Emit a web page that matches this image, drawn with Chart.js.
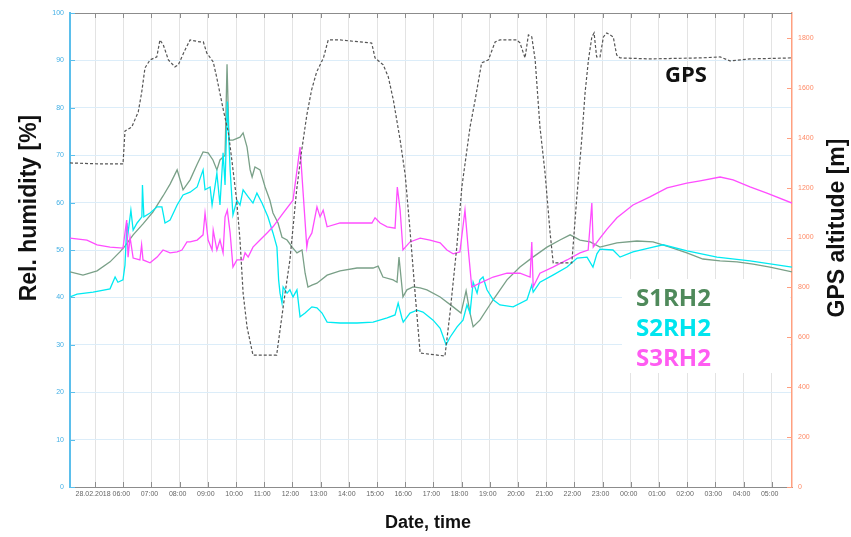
<!DOCTYPE html>
<html><head><meta charset="utf-8">
<script src="https://cdn.jsdelivr.net/npm/chart.js@4.4.1/dist/chart.umd.min.js"></script>
<style>html,body{margin:0;padding:0;background:#fff;overflow:hidden}canvas{display:block}</style>
</head><body>
<canvas id="c" width="851" height="537"></canvas>
<script>
// ---- axis ticks ----
const xTickHours = [5,6,7,8,9,10,11,12,13,14,15,16,17,18,19,20,21,22,23,24,25,26,27,28,29];
const xTickLabels = ['28.02.2018','06:00','07:00','08:00','09:00','10:00','11:00','12:00','13:00','14:00','15:00','16:00','17:00','18:00','19:00','20:00','21:00','22:00','23:00','00:00','01:00','02:00','03:00','04:00','05:00'];
const rhTicks = [0,10,20,30,40,50,60,70,80,90,100];
const gpsTicks = [0,200,400,600,800,1000,1200,1400,1600,1800];

// ---- GPS altitude [m] (x = hours since 28.02 00:00) ----
const gpsX = [4.11,5.17,5.99,6.06,6.30,6.53,6.65,6.77,6.95,7.19,7.30,7.42,7.60,7.83,7.95,8.19,8.37,8.72,8.84,8.96,9.19,9.31,9.55,9.73,9.85,10.02,10.14,10.25,10.39,10.60,11.44,11.56,11.74,11.91,12.15,12.33,12.51,12.68,12.86,13.10,13.27,13.69,14.40,14.81,14.93,15.22,15.40,15.58,15.82,16.00,16.17,16.35,16.53,17.41,17.59,17.83,18.01,18.30,18.48,18.71,18.95,19.19,19.36,19.96,20.07,20.25,20.37,20.49,20.61,20.78,20.96,21.14,21.25,21.91,22.08,22.26,22.38,22.50,22.62,22.70,22.79,22.91,23.03,23.15,23.38,23.50,23.62,24.68,26.46,27.17,27.52,28.23,29.72];
const gpsY = [1299,1295,1295,1427,1443,1503,1580,1680,1712,1724,1792,1772,1712,1684,1692,1752,1792,1784,1784,1740,1704,1644,1511,1419,1311,1151,990,778,641,529,529,629,778,910,1191,1351,1491,1592,1664,1720,1792,1792,1784,1780,1720,1692,1644,1551,1391,1251,1030,778,537,525,698,962,1203,1443,1551,1700,1712,1784,1792,1792,1780,1720,1812,1804,1712,1443,1259,1018,898,898,1151,1391,1580,1712,1804,1820,1724,1724,1804,1820,1804,1732,1720,1716,1720,1724,1708,1716,1720];

// ---- S1RH2 [%] ----
const s1X = [4.11,4.57,5.07,5.53,5.88,6.06,6.35,6.70,7.05,7.41,7.66,7.91,8.12,8.37,8.62,8.83,9.01,9.18,9.32,9.43,9.61,9.68,9.75,9.89,10.14,10.25,10.39,10.50,10.57,10.67,10.85,11.03,11.20,11.31,11.49,11.63,11.81,11.99,12.16,12.34,12.45,12.55,12.69,12.87,13.23,13.69,14.29,14.86,15.04,15.21,15.57,15.71,15.78,15.92,16.06,16.28,16.53,16.77,17.24,17.70,17.98,18.16,18.30,18.41,18.65,19.12,19.61,20.07,20.53,21.03,21.49,21.85,22.20,22.56,22.91,23.51,24.22,24.79,25.39,25.99,26.56,27.17,27.77,28.34,28.94,29.72];
const s1Y = [45.4,44.7,45.6,47.5,49.6,50.8,53.2,55.5,58.0,61.4,63.9,66.9,62.7,64.8,68.1,70.7,70.5,69.0,66.9,69.0,70.0,89.2,73.2,73.2,73.8,74.7,71.7,66.9,65.4,67.5,66.9,63.3,60.5,57.8,55.7,52.7,52.1,50.6,49.4,50.0,45.1,42.2,42.6,43.0,44.7,45.6,46.2,46.2,46.6,44.3,43.7,43.2,48.5,40.1,41.6,42.2,42.0,41.6,40.1,38.0,36.7,41.4,36.7,33.8,35.2,39.5,43.7,46.4,48.5,50.6,52.1,53.2,52.1,51.7,50.6,51.5,51.9,51.7,50.6,49.4,48.1,47.7,47.5,47.0,46.4,45.4];

// ---- S2RH2 [%] ----
const s2X = [4.11,4.36,4.93,5.53,5.71,5.81,5.99,6.06,6.13,6.17,6.27,6.35,6.49,6.66,6.68,6.73,6.95,7.20,7.37,7.48,7.66,7.91,8.12,8.37,8.62,8.83,8.90,9.08,9.15,9.25,9.32,9.43,9.54,9.61,9.69,9.79,9.89,10.03,10.14,10.25,10.43,10.60,10.74,10.92,11.13,11.31,11.45,11.51,11.56,11.63,11.67,11.81,11.91,12.02,12.16,12.27,12.45,12.69,12.87,13.05,13.23,13.69,14.29,14.86,15.36,15.64,15.75,15.88,15.93,16.17,16.42,16.63,16.99,17.24,17.45,17.59,17.84,18.05,18.19,18.30,18.41,18.55,18.65,18.76,18.90,19.12,19.36,19.83,20.32,20.49,20.54,20.78,21.24,21.74,22.10,22.45,22.66,22.80,22.91,23.37,23.62,24.08,24.79,25.15,26.00,27.06,28.23,29.72];
const s2Y = [40.1,40.7,41.1,41.8,44.3,43.2,43.7,46.8,55.7,53.6,58.4,54.2,55.7,57.0,63.7,57.0,57.8,59.1,59.1,55.7,56.3,59.5,61.6,62.2,63.3,66.9,62.7,63.3,59.5,63.3,66.2,59.5,70.5,63.7,81.3,66.9,57.4,60.5,59.5,62.7,61.2,59.9,62.0,59.9,57.0,53.6,50.6,43.7,40.9,38.8,42.2,40.9,41.6,40.1,41.6,35.9,36.7,38.0,37.8,36.7,34.8,34.6,34.6,34.8,35.7,36.3,38.8,35.7,34.8,36.7,37.3,36.9,35.2,33.5,30.0,31.6,33.8,35.2,38.4,36.7,43.2,40.9,43.7,44.3,41.6,39.5,38.4,38.0,39.5,42.6,41.1,43.2,44.7,46.4,48.3,48.5,46.4,49.2,50.2,50.0,48.5,49.6,50.6,51.1,49.8,48.5,47.7,46.4];

// ---- S3RH2 [%] ----
const s3X = [4.11,4.71,5.07,5.53,5.99,6.12,6.17,6.24,6.35,6.59,6.65,6.70,6.95,7.20,7.41,7.66,7.91,8.08,8.26,8.37,8.62,8.83,8.90,9.01,9.15,9.19,9.32,9.43,9.54,9.61,9.69,9.79,9.89,10.03,10.25,10.32,10.43,10.60,10.85,11.10,11.31,11.67,12.02,12.27,12.38,12.51,12.55,12.69,12.87,12.98,13.09,13.23,13.69,14.29,14.82,14.93,15.11,15.36,15.64,15.72,15.82,15.92,16.17,16.53,16.88,17.24,17.48,17.70,17.94,18.12,18.23,18.36,18.65,19.12,19.61,20.07,20.43,20.49,20.54,20.78,21.24,21.74,22.20,22.49,22.62,22.67,22.91,23.16,23.51,24.08,24.68,25.29,25.99,26.46,27.17,27.63,28.23,28.83,29.72];
const s3Y = [52.5,52.1,51.1,50.6,50.4,56.3,48.5,52.7,48.3,47.9,51.1,47.9,47.3,48.5,50.0,49.4,49.6,50.0,51.7,51.7,52.1,53.2,57.8,52.1,50.0,54.2,50.0,52.1,49.4,57.0,58.4,53.6,46.4,47.9,47.9,49.4,48.5,50.6,52.1,53.6,54.9,57.8,60.5,71.7,62.0,50.6,52.1,53.6,59.1,57.0,58.4,54.9,55.7,55.7,55.7,56.8,55.7,54.9,54.6,63.3,58.4,50.0,51.7,52.5,52.1,51.5,50.0,49.2,49.6,58.4,50.6,42.2,43.0,44.3,45.1,45.1,44.3,51.7,42.2,45.1,46.4,47.9,49.4,50.0,59.9,50.6,52.5,54.4,56.8,59.5,61.2,63.1,64.1,64.6,65.4,64.8,63.3,62.0,59.9];

function pts(xs, ys){ const n=Math.min(xs.length, ys.length); const o=[]; for(let i=0;i<n;i++) o.push({x:xs[i], y:ys[i]}); return o; }

const deco = {
  id: 'deco',
  beforeDatasetsDraw(chart){
    const ctx = chart.ctx;
    ctx.save();
    ctx.fillStyle = '#ffffff';
    ctx.fillRect(622, 279, 168, 94);
    ctx.restore();
  },
  afterDraw(chart){
    const {ctx, chartArea:a, scales} = chart;
    ctx.save();
    ctx.strokeStyle = '#8c8c8c'; ctx.lineWidth = 1;
    ctx.beginPath(); ctx.moveTo(a.left, a.top + 0.5); ctx.lineTo(a.right, a.top + 0.5); ctx.stroke();
    ctx.beginPath();
    xTickHours.forEach(h => {
      const x = Math.round(scales.x.getPixelForValue(h)) + 0.5;
      ctx.moveTo(x, a.bottom); ctx.lineTo(x, a.bottom - 5);
      ctx.moveTo(x, a.top); ctx.lineTo(x, a.top + 5);
    });
    ctx.stroke();
    ctx.strokeStyle = '#5bbfec'; ctx.beginPath();
    rhTicks.forEach(v => { const y = Math.round(scales.yL.getPixelForValue(v)) + 0.5; ctx.moveTo(a.left, y); ctx.lineTo(a.left + 5, y); });
    ctx.stroke();
    ctx.strokeStyle = '#ff9f80'; ctx.beginPath();
    gpsTicks.forEach(v => { const y = Math.round(scales.yR.getPixelForValue(v)) + 0.5; ctx.moveTo(a.right, y); ctx.lineTo(a.right - 5, y); });
    ctx.stroke();
    ctx.fillStyle = '#111';
    ctx.textAlign = 'center'; ctx.textBaseline = 'middle';
    ctx.font = 'bold 23px "Liberation Sans", Arial, sans-serif';
    ctx.save(); ctx.translate(30, 208); ctx.rotate(-Math.PI/2); ctx.fillText('Rel. humidity [%]', 0, 0); ctx.restore();
    ctx.save(); ctx.translate(838, 228); ctx.rotate(-Math.PI/2); ctx.fillText('GPS altitude [m]', 0, 0); ctx.restore();
    ctx.font = 'bold 18px "Liberation Sans", Arial, sans-serif';
    ctx.fillText('Date, time', 428, 523);
    ctx.textAlign = 'left'; ctx.textBaseline = 'alphabetic';
    ctx.font = 'bold 22px "Open Sans", sans-serif';
    ctx.fillStyle = '#111'; ctx.fillText('GPS', 665, 82);
    ctx.font = 'bold 24px "Open Sans", sans-serif';
    ctx.fillStyle = '#4f8a5b'; ctx.fillText('S1RH2', 636, 306);
    ctx.fillStyle = '#00e5ee'; ctx.fillText('S2RH2', 636, 336);
    ctx.fillStyle = '#ff5cf2'; ctx.fillText('S3RH2', 636, 366);
    ctx.restore();
  }
};

new Chart(document.getElementById('c'), {
  type: 'line',
  data: { datasets: [
    { label:'GPS', data: pts(gpsX, gpsY), yAxisID:'yR', borderColor:'#555555', borderWidth:1.2, borderDash:[3,2], order:0 },
    { label:'S3RH2', data: pts(s3X, s3Y), yAxisID:'yL', borderColor:'#ff4dff', borderWidth:1.3, order:1 },
    { label:'S2RH2', data: pts(s2X, s2Y), yAxisID:'yL', borderColor:'#00eaf2', borderWidth:1.3, order:2 },
    { label:'S1RH2', data: pts(s1X, s1Y), yAxisID:'yL', borderColor:'#7aa088', borderWidth:1.3, order:3 }
  ]},
  options: {
    responsive:false, animation:false, devicePixelRatio:1,
    layout:{ padding:{ top:13, left:0, right:0, bottom:0 } },
    plugins:{ legend:{display:false}, tooltip:{enabled:false} },
    elements:{ point:{radius:0}, line:{tension:0, fill:false} },
    scales:{
      x:{ type:'linear', min:4.11, max:29.72,
          afterBuildTicks: s => { s.ticks = xTickHours.map(v => ({value:v})); },
          afterFit: s => { s.height = 50; },
          ticks:{ callback: v => { const i = xTickHours.indexOf(v); return i >= 0 ? xTickLabels[i] : ''; },
                  font:{size:7, family:'"Liberation Sans", Arial'}, color:'#666', maxRotation:0, autoSkip:false, padding:3, labelOffset:-2 },
          grid:{ color:'#e3e3e3', drawTicks:false }, border:{ color:'#8c8c8c', width:1 } },
      yL:{ position:'left', min:0, max:100,
           afterBuildTicks: s => { s.ticks = rhTicks.map(v => ({value:v})); },
           afterFit: s => { s.width = 70; },
           ticks:{ callback: v => String(v), font:{size:7, family:'"Liberation Sans", Arial'}, color:'#45b0e5', padding:6 },
           grid:{ color:'#dcedf9', drawTicks:false }, border:{ color:'#5bbfec', width:2 } },
      yR:{ position:'right', min:0, max:1900,
           afterBuildTicks: s => { s.ticks = gpsTicks.map(v => ({value:v})); },
           afterFit: s => { s.width = 59; },
           ticks:{ callback: v => String(v), font:{size:7, family:'"Liberation Sans", Arial'}, color:'#ff8a66', padding:6 },
           grid:{ display:false, drawTicks:false }, border:{ color:'#ffa080', width:1.5 } }
    }
  },
  plugins:[deco]
});
</script>
</body></html>
